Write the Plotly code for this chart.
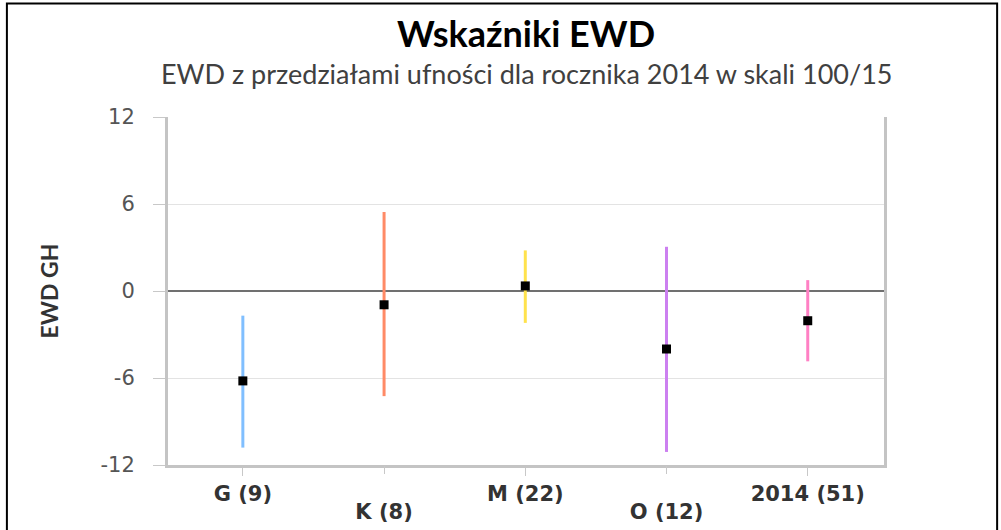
import plotly.graph_objects as go

categories = ["G (9)", "K (8)", "M (22)", "O (12)", "2014 (51)"]
ewd = [-6.2, -0.95, 0.35, -4.0, -2.05]
upper = [-1.7, 5.45, 2.8, 3.05, 0.75]
lower = [-10.8, -7.25, -2.2, -11.1, -4.85]
colors = ["#80BFFF", "#FF8A66", "#FFE24D", "#CC80F0", "#FF80C4"]
y_ticks = [-12, -6, 0, 6, 12]
y_tick_labels = ["-12", "-6", "0", "6", "12"]
row1 = [0, 2, 4]
row2 = [1, 3]

fig = go.Figure()
for i, cat in enumerate(categories):
    fig.add_trace(go.Scatter(
        x=[i], y=[ewd[i]], mode="markers",
        marker=dict(symbol="square", size=9, color="black"),
        error_y=dict(type="data", symmetric=False,
                     array=[upper[i] - ewd[i]], arrayminus=[ewd[i] - lower[i]],
                     color=colors[i], thickness=3, width=0),
        showlegend=False, name=cat,
    ))
# invisible carrier so that the second (staggered) label row is drawn
fig.add_trace(go.Scatter(x=row2, y=[ewd[i] for i in row2], xaxis="x2", mode="markers",
                         marker=dict(opacity=0), showlegend=False, hoverinfo="skip"))

xfont = dict(family="DejaVu Sans", size=21, color="#333333", weight="bold")
fig.update_layout(
    width=1001, height=530,
    margin=dict(l=168, r=117, t=117, b=65),
    paper_bgcolor="white", plot_bgcolor="white",
    title=dict(
        text="<b>Wskaźniki EWD</b>",
        x=0.5, xanchor="center", xref="paper",
        y=1 - 34 / 530, yref="container", yanchor="middle",
        font=dict(family="Lato", size=36, color="black"),
    ),
    annotations=[dict(
        text="EWD z przedziałami ufności dla rocznika 2014 w skali 100/15",
        xref="paper", yref="paper", x=0.5, y=(465 - 73) / 348,
        xanchor="center", yanchor="middle", showarrow=False,
        font=dict(family="Lato", size=27, color="#404040"),
    )],
    xaxis=dict(
        range=[-0.53, 4.54], tickmode="array",
        tickvals=row1, ticktext=[categories[i] for i in row1],
        showgrid=False, zeroline=False,
        showline=True, linecolor="#c4c4c4", linewidth=3,
        ticks="outside", ticklen=8, tickcolor="#c8c8c8", tickwidth=1,
        tickfont=xfont, automargin=False,
    ),
    xaxis2=dict(
        overlaying="x", matches="x", anchor="y", side="bottom",
        range=[-0.53, 4.54], tickmode="array",
        tickvals=row2, ticktext=[categories[i] for i in row2],
        showgrid=False, zeroline=False, showline=False,
        ticks="outside", ticklen=8, tickcolor="#c8c8c8", tickwidth=1,
        ticklabelstandoff=20,
        tickfont=xfont, automargin=False,
    ),
    yaxis=dict(
        range=[-12, 12], tickmode="array", tickvals=y_ticks, ticktext=y_tick_labels,
        showgrid=True, gridcolor="#e3e3e3", gridwidth=1,
        zeroline=True, zerolinecolor="#707070", zerolinewidth=2,
        showline=True, mirror=True, linecolor="#c4c4c4", linewidth=3,
        ticks="outside", ticklen=12, tickcolor="#c8c8c8", tickwidth=1,
        ticklabelstandoff=14,
        tickfont=dict(family="DejaVu Sans", size=21, color="#555555"),
        title=dict(text="<b>EWD GH</b>", standoff=36,
                   font=dict(family="Lato", size=23, color="#333333")),
        automargin=False,
    ),
)

fig.add_shape(type="rect", xref="paper", yref="paper",
              x0=-0.225, x1=1.158, y0=-0.25, y1=1.326,
              line=dict(color="black", width=2), fillcolor="rgba(0,0,0,0)",
              layer="above")

fig.write_html("out.html", config={"displayModeBar": False},
               post_script="document.body.style.margin='0px';")
